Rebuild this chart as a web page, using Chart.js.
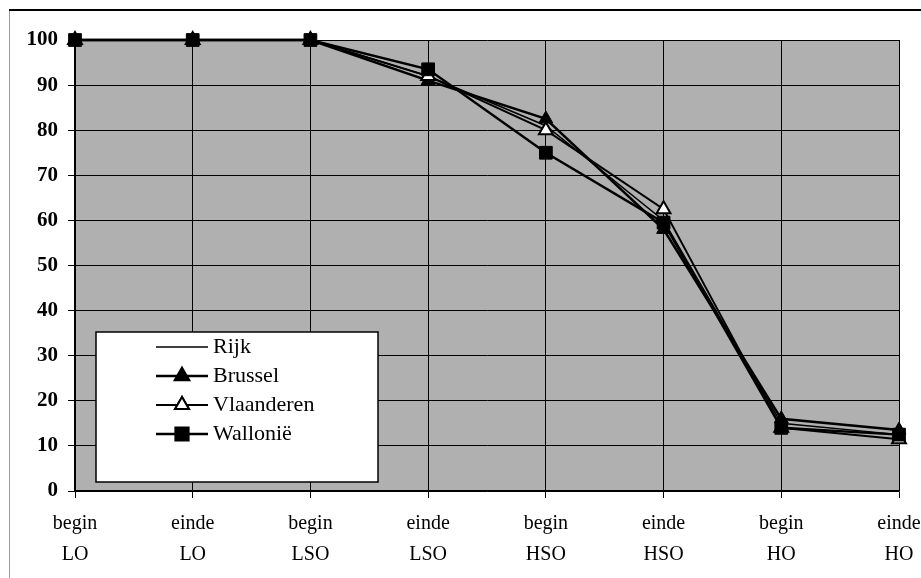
<!DOCTYPE html>
<html>
<head>
<meta charset="utf-8">
<script src="https://cdn.jsdelivr.net/npm/chart.js@4.4.1/dist/chart.umd.min.js"></script>
<style>
  html, body { margin: 0; padding: 0; background: #fff; }
  #wrap { position: relative; width: 921px; height: 578px; }
</style>
</head>
<body>
<div id="wrap"><canvas id="chart"></canvas></div>
<script>
// stages of schooling (two-line tick labels)
const categories = [
  ['begin', 'LO'], ['einde', 'LO'], ['begin', 'LSO'], ['einde', 'LSO'],
  ['begin', 'HSO'], ['einde', 'HSO'], ['begin', 'HO'], ['einde', 'HO']
]
const rijk       = [100, 100, 100, 92, 81, 60, 15, 12.5]
const brussel    = [100, 100, 100, 91, 82.5, 58, 16, 13.5]
const vlaanderen = [100, 100, 100, 92, 80, 62.5, 14, 11.5]
const wallonie   = [100, 100, 100, 93.5, 75, 59.5, 14, 12.5]
const yTicks = [0, 10, 20, 30, 40, 50, 60, 70, 80, 90, 100]

const serif = "'Liberation Serif', 'DejaVu Serif', serif"

// grey plot background + page frame
const backdrop = {
  id: 'backdrop',
  beforeDraw(chart) {
    const { ctx, chartArea: a } = chart
    ctx.save()
    ctx.fillStyle = '#b0b0b0'
    ctx.fillRect(a.left, a.top, a.right - a.left, a.bottom - a.top)
    ctx.strokeStyle = '#9a9a9a'
    ctx.lineWidth = 1
    ctx.beginPath()
    ctx.moveTo(9.5, 10)
    ctx.lineTo(9.5, 578)
    ctx.stroke()
    ctx.strokeStyle = '#000'
    ctx.lineWidth = 2
    ctx.beginPath()
    ctx.moveTo(9, 10)
    ctx.lineTo(921, 10)
    ctx.stroke()
    ctx.restore()
  }
}

// legend box inside the plot, bottom left
const boxLegend = {
  id: 'boxLegend',
  afterDatasetsDraw(chart) {
    const { ctx } = chart
    ctx.save()
    ctx.fillStyle = '#fff'
    ctx.fillRect(96, 332, 282, 150)
    ctx.strokeStyle = '#000'
    ctx.lineWidth = 1.5
    ctx.strokeRect(96, 332, 282, 150)
    chart.data.datasets.forEach((ds, i) => {
      const y = 347 + i * 29
      ctx.strokeStyle = '#000'
      ctx.lineWidth = ds.borderWidth
      ctx.beginPath()
      ctx.moveTo(156, y)
      ctx.lineTo(208, y)
      ctx.stroke()
      if (ds.pointRadius > 0) {
        Chart.helpers.drawPoint(ctx, {
          pointStyle: ds.pointStyle,
          radius: ds.pointRadius,
          borderWidth: ds.pointBorderWidth,
          rotation: 0
        }, 182, y)
        ctx.fillStyle = ds.pointBackgroundColor
        ctx.strokeStyle = '#000'
        ctx.lineWidth = ds.pointBorderWidth
        ctx.fill()
        ctx.stroke()
      }
      ctx.fillStyle = '#000'
      ctx.font = '22px ' + serif
      ctx.textBaseline = 'middle'
      ctx.fillText(ds.label, 213, y)
    })
    ctx.restore()
  }
}

new Chart(document.getElementById('chart'), {
  type: 'line',
  data: {
    labels: categories,
    datasets: [
      {
        label: 'Rijk',
        data: rijk,
        borderColor: '#000',
        borderWidth: 1.5,
        pointRadius: 0,
        pointStyle: false,
        clip: false,
        order: 3,
        tension: 0
      },
      {
        label: 'Brussel',
        data: brussel,
        borderColor: '#000',
        borderWidth: 2.5,
        pointStyle: 'triangle',
        pointRadius: 8,
        pointBackgroundColor: '#000',
        pointBorderColor: '#000',
        pointBorderWidth: 1,
        clip: false,
        order: 2,
        tension: 0
      },
      {
        label: 'Vlaanderen',
        data: vlaanderen,
        borderColor: '#000',
        borderWidth: 2,
        pointStyle: 'triangle',
        pointRadius: 8,
        pointBackgroundColor: '#fff',
        pointBorderColor: '#000',
        pointBorderWidth: 2,
        clip: false,
        order: 1,
        tension: 0
      },
      {
        label: 'Wallonië',
        data: wallonie,
        borderColor: '#000',
        borderWidth: 2.5,
        pointStyle: 'rect',
        pointRadius: 9,
        pointBackgroundColor: '#000',
        pointBorderColor: '#000',
        pointBorderWidth: 1,
        clip: false,
        order: 0,
        tension: 0
      }
    ]
  },
  options: {
    responsive: true,
    maintainAspectRatio: false,
    animation: false,
    layout: { padding: { left: 0, right: 22, top: 40, bottom: 0 } },
    scales: {
      x: {
        offset: false,
        grid: { color: '#000', lineWidth: 1, tickLength: 7, tickColor: '#000' },
        border: { color: '#000', width: 1.5 },
        ticks: {
          color: '#000',
          font: { family: serif, size: 20, lineHeight: 1.55 },
          padding: 10,
          maxRotation: 0,
          autoSkip: false
        },
        afterFit(scale) {
          scale.height = 87
          scale.paddingLeft = 0
          scale.paddingRight = 0
        }
      },
      y: {
        min: 0,
        max: 100,
        afterBuildTicks(scale) {
          scale.ticks = yTicks.map(v => ({ value: v }))
        },
        grid: { color: '#000', lineWidth: 1, tickLength: 7, tickColor: '#000' },
        border: { color: '#000', width: 1.5 },
        ticks: {
          color: '#000',
          font: { family: serif, size: 21, weight: 'bold' },
          padding: 10
        },
        afterFit(scale) {
          scale.width = 75
          scale.paddingTop = 0
          scale.paddingBottom = 0
        }
      }
    },
    plugins: {
      legend: { display: false },
      tooltip: { enabled: false }
    }
  },
  plugins: [backdrop, boxLegend]
})
</script>
</body>
</html>
